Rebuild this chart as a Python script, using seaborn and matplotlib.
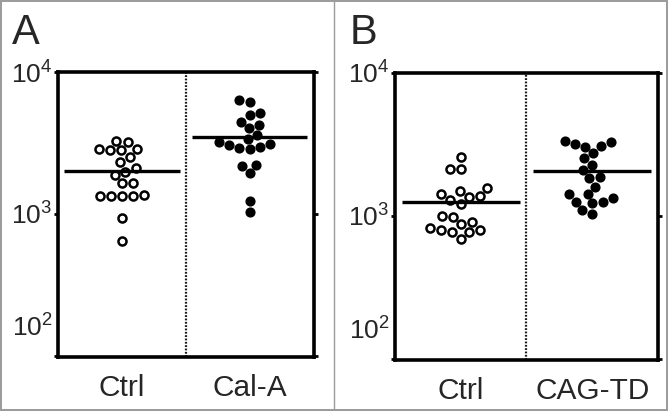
import numpy as np
import pandas as pd
import matplotlib.pyplot as plt
import matplotlib.transforms as mtransforms
from matplotlib.patches import Rectangle
from matplotlib.lines import Line2D
import seaborn as sns

sns.set_style('white')
plt.rcParams['font.family'] = ['Liberation Sans', 'DejaVu Sans']
plt.rcParams['mathtext.fontset'] = 'custom'
plt.rcParams['mathtext.rm'] = 'Liberation Sans'
plt.rcParams['mathtext.it'] = 'Liberation Sans'

# values (arbitrary units, log axis)
a_groups = ['Ctrl', 'Cal-A']
a_ctrl = [3266, 3200, 2825, 2800, 2870, 2870, 2535, 2313, 2100, 1985,
          1884, 1663, 1650, 1346, 1346, 1335, 1346, 1355, 942, 649]
a_cal = [6350, 6180, 4980, 5180, 4470, 4235, 4010, 3600, 3230, 3065,
         2905, 2860, 2950, 3110, 3360, 2180, 2213, 1936, 1241, 1038]

b_groups = ['Ctrl', 'CAG-TD']
b_ctrl = [2600, 2133, 2133, 1578, 1503, 1380, 1294, 1365, 1425, 1213,
          988, 1000, 912, 879, 820, 798, 769, 690, 769, 798]
b_cag = [3170, 3020, 3365, 3090, 3275, 2744, 2530, 2274, 2100, 1836,
         1866, 1603, 1425, 1425, 1259, 1227, 1259, 1101, 1033, 1330]

ytick_vals = [100, 1000, 10000]
ytick_text = ['$10^{2}$', '$10^{3}$', '$10^{4}$']

fig = plt.figure(figsize=(6.68, 4.11), dpi=100)
ax_a = fig.add_axes([0.0868, 0.1314, 0.383, 0.6934])
ax_b = fig.add_axes([0.5913, 0.1241, 0.3937, 0.6983])


def draw_panel(ax, groups, ctrl, treat):
    df = pd.DataFrame({
        'group': [groups[0]] * len(ctrl) + [groups[1]] * len(treat),
        'value': list(ctrl) + list(treat),
    })
    ax.set_yscale('log')
    ax.set_ylim(98, 10000)
    ax.set_xlim(-0.5, 1.5)
    # open circles for control, filled for treatment
    sns.swarmplot(data=df[df['group'] == groups[0]], x='group', y='value',
                  order=groups, color='white', edgecolor='black',
                  linewidth=1.8, size=5.8, ax=ax)
    sns.swarmplot(data=df[df['group'] == groups[1]], x='group', y='value',
                  order=groups, color='black', edgecolor='black',
                  linewidth=1.0, size=6.3, ax=ax)
    ax.set_yscale('log')
    ax.set_ylim(98, 10000)
    ax.set_xlim(-0.5, 1.5)

    # mean bars
    for i, vals in enumerate([ctrl, treat]):
        ax.hlines(np.mean(vals), i - 0.45, i + 0.45, color='black', lw=2.4, zorder=5)

    ax.axvline(0.5, color='#1a1a1a', lw=1.6, ls=(0, (0.8, 0.7)), zorder=1)

    for sp in ax.spines.values():
        sp.set_visible(True)
        sp.set_color('black')
        sp.set_linewidth(2.6)

    ax.set_xlabel('')
    ax.set_ylabel('')
    ax.set_xticks([0, 1])
    ax.set_xticklabels(groups, fontsize=21.5)
    ax.tick_params(axis='x', length=0, pad=12)

    ax.yaxis.set_minor_locator(plt.NullLocator())
    ax.set_yticks(ytick_vals)
    ax.set_yticklabels(ytick_text, fontsize=19)
    ax.tick_params(axis='y', which='major', direction='out', length=3,
                   width=2, right=True, left=True, pad=1, color='black')
    # the bottom label sits higher than its tick in the original figure
    lab = ax.get_yticklabels()[0]
    lab.set_transform(lab.get_transform() +
                      mtransforms.ScaledTranslation(0, 0.30, fig.dpi_scale_trans))

    return ax


draw_panel(ax_a, a_groups, a_ctrl, a_cal)
draw_panel(ax_b, b_groups, b_ctrl, b_cag)

fig.text(12 / 668, 1 - 33 / 411, 'A', fontsize=30, va='center', ha='left')
fig.text(350 / 668, 1 - 33 / 411, 'B', fontsize=30, va='center', ha='left')

# outer frame and divider
fig.patches.append(Rectangle((0.001, 0.002), 0.997, 0.996, transform=fig.transFigure,
                             fill=False, edgecolor='#9a9a9a', lw=1.4))
fig.lines.append(Line2D([334 / 668, 334 / 668], [0, 1], transform=fig.transFigure,
                        color='#9a9a9a', lw=1.0))

fig.savefig('out.png', dpi=100)
